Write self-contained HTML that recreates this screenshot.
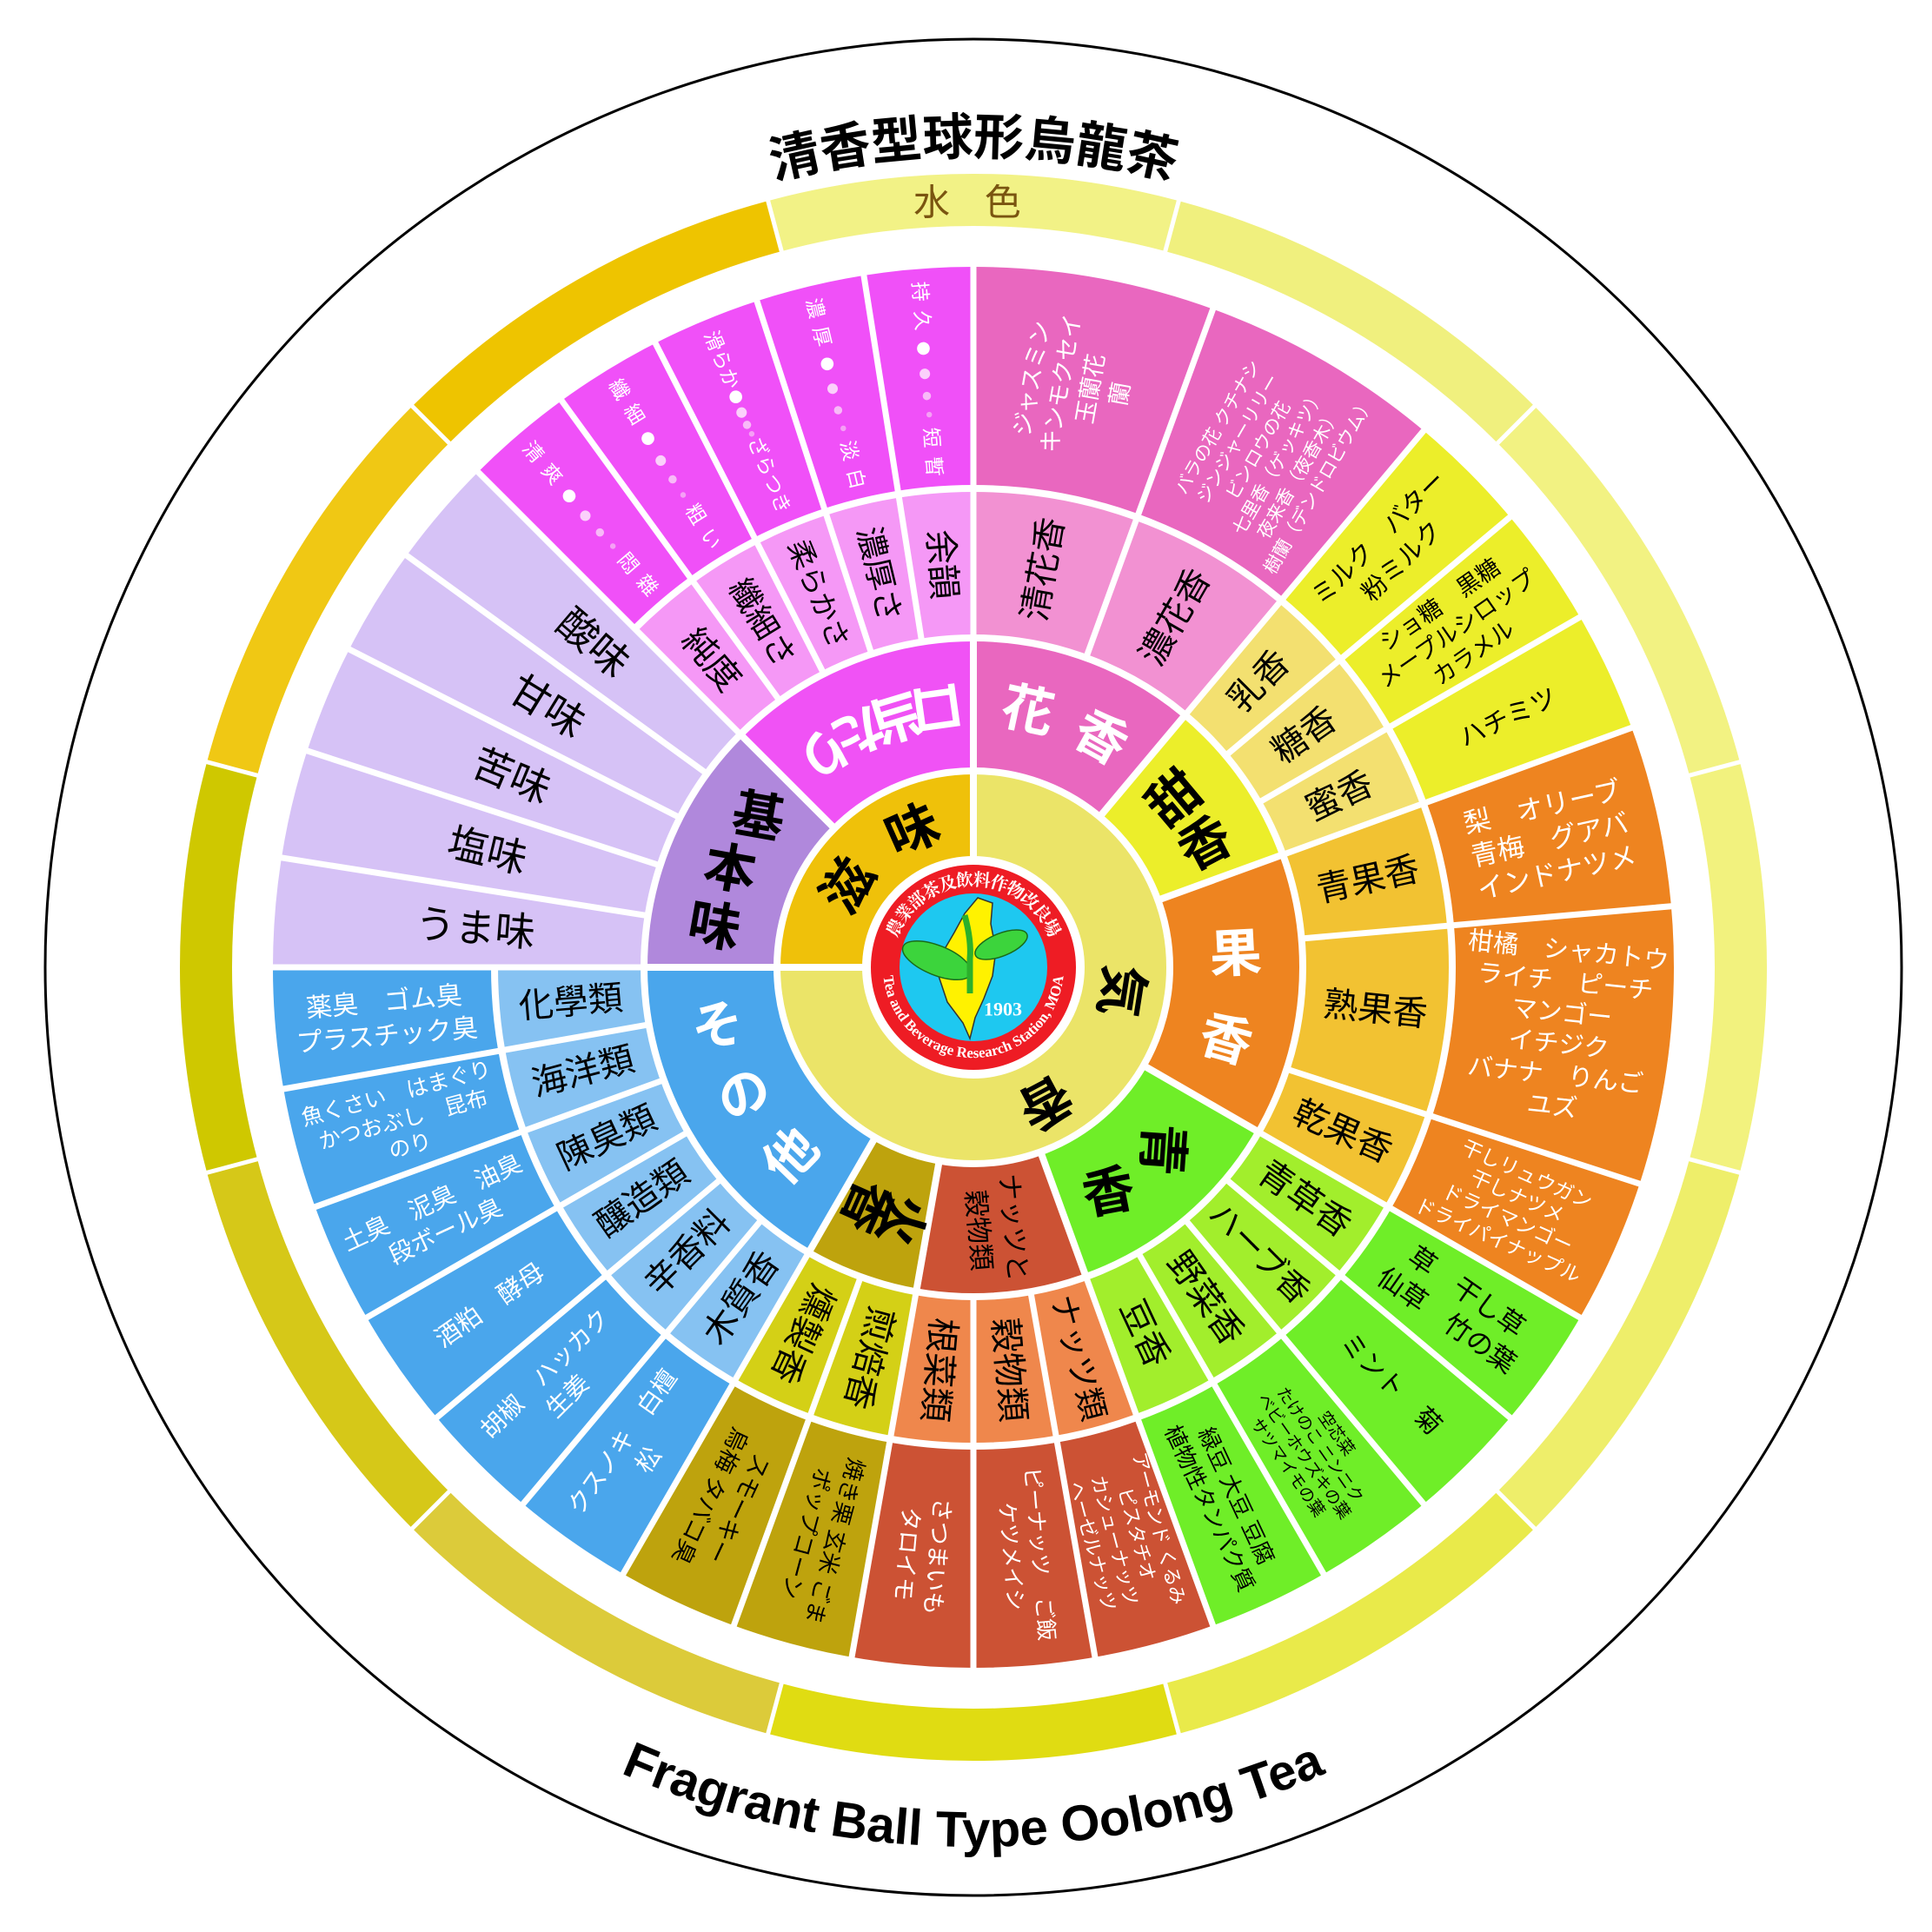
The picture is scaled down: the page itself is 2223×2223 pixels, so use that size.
<!DOCTYPE html>
<html><head><meta charset="utf-8">
<style>
html,body{margin:0;padding:0;background:#fff;width:2223px;height:2223px;overflow:hidden;}
svg{display:block}
text{font-family:"Liberation Sans","Noto Sans CJK JP",sans-serif;text-anchor:middle;dominant-baseline:central}
.r3{font-size:40px;fill:#000}
.b{font-weight:bold}
.w{fill:#fff}
.k{fill:#000}
</style></head>
<body>
<svg width="2223" height="2223" viewBox="0 0 2223 2223" xmlns="http://www.w3.org/2000/svg" style="position:absolute;left:0;top:0">
<rect width="2223" height="2223" fill="#fff"/>
<g transform="translate(1120,1113)">
<circle r="1068" fill="none" stroke="#000" stroke-width="3"/>

<!-- outer band -->
<g fill="none" stroke-width="60">
<circle r="883" pathLength="360" stroke="#f2f286" stroke-dasharray="30 360" transform="rotate(255)"/>
<circle r="883" pathLength="360" stroke="#f0f07e" stroke-dasharray="30 360" transform="rotate(-75)"/>
<circle r="883" pathLength="360" stroke="#f2f282" stroke-dasharray="30 360" transform="rotate(-45)"/>
<circle r="883" pathLength="360" stroke="#f2f27e" stroke-dasharray="30 360" transform="rotate(-15)"/>
<circle r="883" pathLength="360" stroke="#eeee6a" stroke-dasharray="30 360" transform="rotate(15)"/>
<circle r="883" pathLength="360" stroke="#e9ea4a" stroke-dasharray="30 360" transform="rotate(45)"/>
<circle r="883" pathLength="360" stroke="#e0dc12" stroke-dasharray="30 360" transform="rotate(75)"/>
<circle r="883" pathLength="360" stroke="#dccb3a" stroke-dasharray="30 360" transform="rotate(105)"/>
<circle r="883" pathLength="360" stroke="#d6c818" stroke-dasharray="30 360" transform="rotate(135)"/>
<circle r="883" pathLength="360" stroke="#cfc800" stroke-dasharray="30 360" transform="rotate(165)"/>
<circle r="883" pathLength="360" stroke="#f0c814" stroke-dasharray="30 360" transform="rotate(195)"/>
<circle r="883" pathLength="360" stroke="#eec400" stroke-dasharray="30 360" transform="rotate(225)"/>
</g>
<g stroke="#fff" stroke-width="5">
<line x1="0" y1="-848" x2="0" y2="-918" transform="rotate(15)"/>
<line x1="0" y1="-848" x2="0" y2="-918" transform="rotate(45)"/>
<line x1="0" y1="-848" x2="0" y2="-918" transform="rotate(75)"/>
<line x1="0" y1="-848" x2="0" y2="-918" transform="rotate(105)"/>
<line x1="0" y1="-848" x2="0" y2="-918" transform="rotate(135)"/>
<line x1="0" y1="-848" x2="0" y2="-918" transform="rotate(165)"/>
<line x1="0" y1="-848" x2="0" y2="-918" transform="rotate(195)"/>
<line x1="0" y1="-848" x2="0" y2="-918" transform="rotate(225)"/>
<line x1="0" y1="-848" x2="0" y2="-918" transform="rotate(255)"/>
<line x1="0" y1="-848" x2="0" y2="-918" transform="rotate(285)"/>
<line x1="0" y1="-848" x2="0" y2="-918" transform="rotate(315)"/>
<line x1="0" y1="-848" x2="0" y2="-918" transform="rotate(345)"/>
</g>
<text x="0" y="-880" style="font-size:42px;fill:#7a5510;letter-spacing:14px">水 色</text>

<!-- titles -->
<path id="tp" d="M -935 0 A 935 935 0 0 1 935 0" fill="none"/>
<text style="font-size:58px;font-weight:bold;dominant-baseline:auto"><textPath href="#tp" startOffset="50%">清香型球形烏龍茶</textPath></text>
<path id="bp" d="M -1012 0 A 1012 1012 0 0 0 1012 0" fill="none"/>
<text style="font-size:58px;font-weight:bold;dominant-baseline:auto;font-family:'Liberation Sans',sans-serif"><textPath href="#bp" startOffset="50%">Fragrant Ball Type Oolong Tea</textPath></text>

<!-- ring4 -->
<g fill="none" stroke-width="256">
<circle r="679" pathLength="360" stroke="#e967bf" stroke-dasharray="40 360" transform="rotate(-90)"/>
<circle r="679" pathLength="360" stroke="#ecee2a" stroke-dasharray="30 360" transform="rotate(-50)"/>
<circle r="679" pathLength="360" stroke="#ee8420" stroke-dasharray="50 360" transform="rotate(-20)"/>
<circle r="679" pathLength="360" stroke="#6fee28" stroke-dasharray="40 360" transform="rotate(30)"/>
<circle r="679" pathLength="360" stroke="#cc5234" stroke-dasharray="30 360" transform="rotate(70)"/>
<circle r="679" pathLength="360" stroke="#bea30d" stroke-dasharray="20 360" transform="rotate(100)"/>
<circle r="679" pathLength="360" stroke="#4aa6ec" stroke-dasharray="60 360" transform="rotate(120)"/>
<circle r="679" pathLength="360" stroke="#f050f8" stroke-dasharray="45 360" transform="rotate(225)"/>
</g>
<!-- ring3 -->
<g fill="none" stroke-width="174">
<circle r="465" pathLength="360" stroke="#f291d2" stroke-dasharray="40 360" transform="rotate(-90)"/>
<circle r="465" pathLength="360" stroke="#f3e070" stroke-dasharray="30 360" transform="rotate(-50)"/>
<circle r="465" pathLength="360" stroke="#f2c232" stroke-dasharray="50 360" transform="rotate(-20)"/>
<circle r="465" pathLength="360" stroke="#a2ee2c" stroke-dasharray="40 360" transform="rotate(30)"/>
<circle r="465" pathLength="360" stroke="#ef874c" stroke-dasharray="30 360" transform="rotate(70)"/>
<circle r="465" pathLength="360" stroke="#d4d016" stroke-dasharray="20 360" transform="rotate(100)"/>
<circle r="465" pathLength="360" stroke="#86c2f2" stroke-dasharray="60 360" transform="rotate(120)"/>
<circle r="465" pathLength="360" stroke="#f598f6" stroke-dasharray="45 360" transform="rotate(225)"/>
</g>
<circle r="593" fill="none" stroke-width="430" pathLength="360" stroke="#d6c2f6" stroke-dasharray="45 360" transform="rotate(180)"/>
<!-- ring2 -->
<g fill="none" stroke-width="154">
<circle r="302" pathLength="360" stroke="#e967bf" stroke-dasharray="40 360" transform="rotate(-90)"/>
<circle r="302" pathLength="360" stroke="#ecee2a" stroke-dasharray="30 360" transform="rotate(-50)"/>
<circle r="302" pathLength="360" stroke="#ee8420" stroke-dasharray="50 360" transform="rotate(-20)"/>
<circle r="302" pathLength="360" stroke="#6fee28" stroke-dasharray="40 360" transform="rotate(30)"/>
<circle r="302" pathLength="360" stroke="#cc5234" stroke-dasharray="30 360" transform="rotate(70)"/>
<circle r="302" pathLength="360" stroke="#bea30d" stroke-dasharray="20 360" transform="rotate(100)"/>
<circle r="302" pathLength="360" stroke="#4aa6ec" stroke-dasharray="60 360" transform="rotate(120)"/>
<circle r="302" pathLength="360" stroke="#b088dc" stroke-dasharray="45 360" transform="rotate(180)"/>
<circle r="302" pathLength="360" stroke="#f052f5" stroke-dasharray="45 360" transform="rotate(225)"/>
</g>
<!-- ring1 -->
<g fill="none" stroke-width="100">
<circle r="176" pathLength="360" stroke="#efc10a" stroke-dasharray="90 360" transform="rotate(180)"/>
<circle r="176" pathLength="360" stroke="#ebe468" stroke-dasharray="270 360" transform="rotate(-90)"/>
</g>
<!-- white ring separators -->
<g fill="none" stroke="#fff">
<circle r="226" stroke-width="8"/>
<circle r="379" stroke-width="8"/>
<circle r="551" stroke-width="8" pathLength="360" stroke-dasharray="315 45" transform="rotate(225)"/>
<circle r="810" stroke-width="8"/>
</g>
<g stroke="#fff" stroke-width="8">
<line x1="0" y1="-120" x2="0" y2="-228" transform="rotate(0)"/>
<line x1="0" y1="-120" x2="0" y2="-228" transform="rotate(270)"/>
<line x1="0" y1="-224" x2="0" y2="-380" transform="rotate(0)"/>
<line x1="0" y1="-224" x2="0" y2="-380" transform="rotate(40)"/>
<line x1="0" y1="-224" x2="0" y2="-380" transform="rotate(70)"/>
<line x1="0" y1="-224" x2="0" y2="-380" transform="rotate(120)"/>
<line x1="0" y1="-224" x2="0" y2="-380" transform="rotate(160)"/>
<line x1="0" y1="-224" x2="0" y2="-380" transform="rotate(190)"/>
<line x1="0" y1="-224" x2="0" y2="-380" transform="rotate(210)"/>
<line x1="0" y1="-224" x2="0" y2="-380" transform="rotate(270)"/>
<line x1="0" y1="-224" x2="0" y2="-380" transform="rotate(315)"/>
</g>
<g stroke="#fff" stroke-width="7">
<line x1="0" y1="-376" x2="0" y2="-812" transform="rotate(0)"/>
<line x1="0" y1="-376" x2="0" y2="-812" transform="rotate(20)"/>
<line x1="0" y1="-376" x2="0" y2="-812" transform="rotate(40)"/>
<line x1="0" y1="-376" x2="0" y2="-812" transform="rotate(50)"/>
<line x1="0" y1="-376" x2="0" y2="-812" transform="rotate(60)"/>
<line x1="0" y1="-376" x2="0" y2="-812" transform="rotate(70)"/>
<line x1="0" y1="-376" x2="0" y2="-812" transform="rotate(85)"/>
<line x1="0" y1="-376" x2="0" y2="-812" transform="rotate(108)"/>
<line x1="0" y1="-376" x2="0" y2="-812" transform="rotate(120)"/>
<line x1="0" y1="-376" x2="0" y2="-812" transform="rotate(130)"/>
<line x1="0" y1="-376" x2="0" y2="-812" transform="rotate(140)"/>
<line x1="0" y1="-376" x2="0" y2="-812" transform="rotate(150)"/>
<line x1="0" y1="-376" x2="0" y2="-812" transform="rotate(160)"/>
<line x1="0" y1="-376" x2="0" y2="-812" transform="rotate(170)"/>
<line x1="0" y1="-376" x2="0" y2="-812" transform="rotate(180)"/>
<line x1="0" y1="-376" x2="0" y2="-812" transform="rotate(190)"/>
<line x1="0" y1="-376" x2="0" y2="-812" transform="rotate(200)"/>
<line x1="0" y1="-376" x2="0" y2="-812" transform="rotate(210)"/>
<line x1="0" y1="-376" x2="0" y2="-812" transform="rotate(220)"/>
<line x1="0" y1="-376" x2="0" y2="-812" transform="rotate(230)"/>
<line x1="0" y1="-376" x2="0" y2="-812" transform="rotate(240)"/>
<line x1="0" y1="-376" x2="0" y2="-812" transform="rotate(250)"/>
<line x1="0" y1="-376" x2="0" y2="-812" transform="rotate(260)"/>
<line x1="0" y1="-376" x2="0" y2="-812" transform="rotate(270)"/>
<line x1="0" y1="-376" x2="0" y2="-812" transform="rotate(279)"/>
<line x1="0" y1="-376" x2="0" y2="-812" transform="rotate(288)"/>
<line x1="0" y1="-376" x2="0" y2="-812" transform="rotate(297)"/>
<line x1="0" y1="-376" x2="0" y2="-812" transform="rotate(306)"/>
<line x1="0" y1="-376" x2="0" y2="-812" transform="rotate(315)"/>
<line x1="0" y1="-376" x2="0" y2="-812" transform="rotate(324)"/>
<line x1="0" y1="-376" x2="0" y2="-812" transform="rotate(333)"/>
<line x1="0" y1="-376" x2="0" y2="-812" transform="rotate(342)"/>
<line x1="0" y1="-376" x2="0" y2="-812" transform="rotate(351)"/>
</g>

<!-- ring1 labels -->
<g style="font-size:60px;font-weight:bold">
<text transform="rotate(303) translate(0,-172)">滋</text>
<text transform="rotate(336) translate(0,-172)">味</text>
<text transform="rotate(99) translate(0,-172)">気</text>
<text transform="rotate(152) translate(0,-176)">香</text>
</g>

<!-- ring2 labels -->
<g style="font-size:60px;font-weight:bold">
<text class="w" transform="rotate(12) translate(0,-302)">花</text>
<text class="w" transform="rotate(29) translate(0,-302)">香</text>
<text class="k" transform="rotate(50) translate(0,-302) rotate(-90)">甜</text>
<text class="k" transform="rotate(62) translate(0,-302) rotate(-90)">香</text>
<text class="w" transform="rotate(87) translate(0,-302) rotate(-90)">果</text>
<text class="w" transform="rotate(106) translate(0,-302) rotate(-90)">香</text>
<text class="k" transform="rotate(134) translate(0,-302) rotate(-40)">青</text>
<text class="k" transform="rotate(149) translate(0,-302) rotate(-160)">香</text>
<text class="k" transform="rotate(196) translate(0,-302) rotate(-90)">火</text>
<text class="k" transform="rotate(204) translate(0,-302) rotate(-90)">香</text>
<text class="w" transform="rotate(257) translate(0,-302) rotate(90)">そ</text>
<text class="w" transform="rotate(241) translate(0,-302) rotate(90)">の</text>
<text class="w" transform="rotate(224) translate(0,-302) rotate(90)">他</text>
<text class="k" transform="rotate(305) translate(0,-302) rotate(-295)">基</text>
<text class="k" transform="rotate(292) translate(0,-302) rotate(-282)">本</text>
<text class="k" transform="rotate(279) translate(0,-302) rotate(-269)">味</text>
<text class="w" transform="rotate(352) translate(0,-302) rotate(180)">口</text>
<text class="w" transform="rotate(343) translate(0,-302) rotate(180)">当</text>
<text class="w" transform="rotate(334) translate(0,-302) rotate(180)">た</text>
<text class="w" transform="rotate(325) translate(0,-302) rotate(180)">り</text>
</g>
<text class="k" style="font-size:31px" transform="rotate(175) translate(0,-302) rotate(-90)"><tspan x="0" dy="-0.65em">ナッツと</tspan><tspan x="0" dy="1.3em">穀物類</tspan></text>

<!-- ring3 labels -->
<g class="r3">
<text transform="rotate(10) translate(0,-465) rotate(-90)">清花香</text>
<text transform="rotate(30) translate(0,-465) rotate(-90)">濃花香</text>
<text transform="rotate(45) translate(0,-465) rotate(-90)">乳香</text>
<text transform="rotate(55) translate(0,-465) rotate(-90)">糖香</text>
<text transform="rotate(65) translate(0,-465) rotate(-90)">蜜香</text>
<text transform="rotate(77.5) translate(0,-465) rotate(-90)">青果香</text>
<text transform="rotate(96) translate(0,-465) rotate(-90)">熟果香</text>
<text transform="rotate(114) translate(0,-465) rotate(-90)">乾果香</text>
<text transform="rotate(125) translate(0,-465) rotate(-90)">青草香</text>
<text transform="rotate(135) translate(0,-465) rotate(-90)" style="font-size:37px">ハーブ香</text>
<text transform="rotate(145) translate(0,-465) rotate(-90)">野菜香</text>
<text transform="rotate(155) translate(0,-465) rotate(-90)">豆香</text>
<text transform="rotate(165) translate(0,-465) rotate(-90)" style="font-size:37px">ナッツ類</text>
<text transform="rotate(175) translate(0,-465) rotate(-90)">穀物類</text>
<text transform="rotate(185) translate(0,-465) rotate(-90)">根菜類</text>
<text transform="rotate(195) translate(0,-465) rotate(-90)">煎焙香</text>
<text transform="rotate(205) translate(0,-465) rotate(-90)">燻製香</text>
<text transform="rotate(215) translate(0,-465) rotate(90)">木質香</text>
<text transform="rotate(225) translate(0,-465) rotate(90)">辛香料</text>
<text transform="rotate(235) translate(0,-465) rotate(90)">釀造類</text>
<text transform="rotate(245) translate(0,-465) rotate(90)">陳臭類</text>
<text transform="rotate(255) translate(0,-465) rotate(90)">海洋類</text>
<text transform="rotate(265) translate(0,-465) rotate(90)">化學類</text>
<text transform="rotate(319.5) translate(0,-465) rotate(90)">純度</text>
<text transform="rotate(328.5) translate(0,-465) rotate(90)" style="font-size:37px">纖細さ</text>
<text transform="rotate(337.5) translate(0,-465) rotate(90)" style="font-size:33px">柔らかさ</text>
<text transform="rotate(346.5) translate(0,-465) rotate(90)" style="font-size:37px">濃厚さ</text>
<text transform="rotate(355.5) translate(0,-465) rotate(90)">余韻</text>
</g>
<g style="font-size:46px">
<text transform="rotate(274.5) translate(0,-575) rotate(90)">うま味</text>
<text transform="rotate(283.5) translate(0,-575) rotate(90)">塩味</text>
<text transform="rotate(292.5) translate(0,-575) rotate(90)">苦味</text>
<text transform="rotate(301.5) translate(0,-575) rotate(90)">甘味</text>
<text transform="rotate(310.5) translate(0,-575) rotate(90)">酸味</text>
</g>

<!-- ring4 labels -->
<text class="w" style="font-size:27px" transform="rotate(10) translate(0,-679) rotate(-90)"><tspan x="0" dy="-1.9em">ジャスミン</tspan><tspan x="0" dy="1.27em">キンモクセイ</tspan><tspan x="0" dy="1.27em">玉蘭花</tspan><tspan x="0" dy="1.27em">蘭</tspan></text>
<text class="w" style="font-size:21px" transform="rotate(30) translate(0,-679) rotate(-90)"><tspan x="0" dy="-3.2em">バラの花 クチナシ</tspan><tspan x="0" dy="1.28em">ジンジャーリリー</tspan><tspan x="0" dy="1.28em">ビンロウの花</tspan><tspan x="0" dy="1.28em">七里香（ゲッキツ）</tspan><tspan x="0" dy="1.28em">夜来香（夜香木）</tspan><tspan x="0" dy="1.28em">樹蘭（デンドロビウム）</tspan></text>
<text class="k" style="font-size:29px" transform="rotate(45) translate(0,-679) rotate(-90)"><tspan x="0" dy="-0.65em">ミルク　バター</tspan><tspan x="0" dy="1.3em">粉ミルク</tspan></text>
<text class="k" style="font-size:27px" transform="rotate(55) translate(0,-679) rotate(-90)"><tspan x="0" dy="-1.25em">ショ糖　黒糖</tspan><tspan x="0" dy="1.25em">メープルシロップ</tspan><tspan x="0" dy="1.25em">カラメル</tspan></text>
<text class="k" style="font-size:30px" transform="rotate(65) translate(0,-679) rotate(-90)">ハチミツ</text>
<text class="w" style="font-size:31px" transform="rotate(77.5) translate(0,-679) rotate(-90)"><tspan x="0" dy="-1.25em">梨　オリーブ</tspan><tspan x="0" dy="1.25em">青梅　グアバ</tspan><tspan x="0" dy="1.25em">インドナツメ</tspan></text>
<text class="w" style="font-size:29px" transform="rotate(96) translate(0,-679) rotate(-90)"><tspan x="0" dy="-3.1em">柑橘　シャカトウ</tspan><tspan x="0" dy="1.24em">ライチ　ピーチ</tspan><tspan x="0" dy="1.24em">マンゴー</tspan><tspan x="0" dy="1.24em">イチジク</tspan><tspan x="0" dy="1.24em">バナナ　りんご</tspan><tspan x="0" dy="1.24em">ユズ</tspan></text>
<text class="w" style="font-size:23px" transform="rotate(114) translate(0,-679) rotate(-90)"><tspan x="0" dy="-1.8em">干しリュウガン</tspan><tspan x="0" dy="1.2em">干しナツメ</tspan><tspan x="0" dy="1.2em">ドライマンゴー</tspan><tspan x="0" dy="1.2em">ドライパイナップル</tspan></text>
<text class="k" style="font-size:31px" transform="rotate(125) translate(0,-679) rotate(-90)"><tspan x="0" dy="-0.65em">草　干し草</tspan><tspan x="0" dy="1.3em">仙草　竹の葉</tspan></text>
<text class="k" style="font-size:30px" transform="rotate(135) translate(0,-679) rotate(-90)">ミント　菊</text>
<text class="k" style="font-size:19px" transform="rotate(145) translate(0,-679) rotate(-90)"><tspan x="0" dy="-1.8em">空芯菜</tspan><tspan x="0" dy="1.2em">たけのこ ニンニク</tspan><tspan x="0" dy="1.2em">ベビーホウズキの葉</tspan><tspan x="0" dy="1.2em">サツマイモの葉</tspan></text>
<text class="k" style="font-size:26px" transform="rotate(155) translate(0,-679) rotate(-90)"><tspan x="0" dy="-0.65em">緑豆 大豆 豆腐</tspan><tspan x="0" dy="1.3em">植物性タンパク質</tspan></text>
<text class="w" style="font-size:22px" transform="rotate(165) translate(0,-679) rotate(-90)"><tspan x="0" dy="-1.8em">アーモンド くるみ</tspan><tspan x="0" dy="1.2em">ピスタチオ</tspan><tspan x="0" dy="1.2em">カシューナッツ</tspan><tspan x="0" dy="1.2em">ヘーゼルナッツ</tspan></text>
<text class="w" style="font-size:25px" transform="rotate(175) translate(0,-679) rotate(-90)"><tspan x="0" dy="-0.65em">ピーナッツ　ご飯</tspan><tspan x="0" dy="1.3em">ケツメイシ</tspan></text>
<text class="w" style="font-size:27px" transform="rotate(185) translate(0,-679) rotate(-90)"><tspan x="0" dy="-0.65em">さつまいも</tspan><tspan x="0" dy="1.3em">タロイモ</tspan></text>
<text class="k" style="font-size:26px" transform="rotate(195) translate(0,-679) rotate(-90)"><tspan x="0" dy="-0.65em">焼き栗 玄米 ごま</tspan><tspan x="0" dy="1.3em">ポップコーン</tspan></text>
<text class="k" style="font-size:27px" transform="rotate(205) translate(0,-679) rotate(-90)"><tspan x="0" dy="-0.65em">スモーキー</tspan><tspan x="0" dy="1.3em">烏梅 タバコ臭</tspan></text>
<text class="w" style="font-size:28px" transform="rotate(215) translate(0,-679) rotate(90)"><tspan x="0" dy="-0.65em">クスノキ　白檀</tspan><tspan x="0" dy="1.3em">松</tspan></text>
<text class="w" style="font-size:28px" transform="rotate(225) translate(0,-679) rotate(90)"><tspan x="0" dy="-0.65em">胡椒　ハッカク</tspan><tspan x="0" dy="1.3em">生姜</tspan></text>
<text class="w" style="font-size:29px" transform="rotate(235) translate(0,-679) rotate(90)">酒粕　酵母</text>
<text class="w" style="font-size:28px" transform="rotate(245) translate(0,-679) rotate(90)"><tspan x="0" dy="-0.65em">土臭　泥臭　油臭</tspan><tspan x="0" dy="1.3em">段ボール臭</tspan></text>
<text class="w" style="font-size:25px" transform="rotate(255) translate(0,-679) rotate(90)"><tspan x="0" dy="-1.25em">魚くさい　はまぐり</tspan><tspan x="0" dy="1.25em">かつおぶし　昆布</tspan><tspan x="0" dy="1.25em">のり</tspan></text>
<text class="w" style="font-size:30px" transform="rotate(265) translate(0,-679) rotate(90)"><tspan x="0" dy="-0.65em">薬臭　ゴム臭</tspan><tspan x="0" dy="1.3em">プラスチック臭</tspan></text>

<g style="font-size:23px;fill:#fff">
<text transform="rotate(319.5) translate(0,-679) rotate(90)" textLength="225" lengthAdjust="spacing">清爽<tspan font-size="34">●</tspan><tspan font-size="28" fill="#fbd0fb">●</tspan><tspan font-size="22" fill="#f8baf8">●</tspan><tspan font-size="15" fill="#f5a0f5">●</tspan>悶雜</text>
<text transform="rotate(328.5) translate(0,-679) rotate(90)" textLength="225" lengthAdjust="spacing">纖細<tspan font-size="34">●</tspan><tspan font-size="28" fill="#fbd0fb">●</tspan><tspan font-size="22" fill="#f8baf8">●</tspan><tspan font-size="15" fill="#f5a0f5">●</tspan>粗い</text>
<text transform="rotate(337.5) translate(0,-679) rotate(90)" textLength="225" lengthAdjust="spacing">滑らか<tspan font-size="34">●</tspan><tspan font-size="28" fill="#fbd0fb">●</tspan><tspan font-size="22" fill="#f8baf8">●</tspan><tspan font-size="15" fill="#f5a0f5">●</tspan>ざらつき</text>
<text transform="rotate(346.5) translate(0,-679) rotate(90)" textLength="225" lengthAdjust="spacing">濃厚<tspan font-size="34">●</tspan><tspan font-size="28" fill="#fbd0fb">●</tspan><tspan font-size="22" fill="#f8baf8">●</tspan><tspan font-size="15" fill="#f5a0f5">●</tspan>淡白</text>
<text transform="rotate(355.5) translate(0,-679) rotate(90)" textLength="225" lengthAdjust="spacing">持久<tspan font-size="34">●</tspan><tspan font-size="28" fill="#fbd0fb">●</tspan><tspan font-size="22" fill="#f8baf8">●</tspan><tspan font-size="15" fill="#f5a0f5">●</tspan>短暫</text>
</g>

<!-- logo -->
<circle r="128" fill="#fff"/>
<circle r="118" fill="#ee1c24"/>
<circle r="85" fill="#1ec8f0"/>
<path d="M5,-80 L22,-74 L20,-50 L26,-20 L22,10 L12,36 L2,58 L-4,82 L-12,64 L-30,40 L-40,10 L-36,-16 L-22,-40 L-10,-62 Z" fill="#fff200" stroke="#333" stroke-width="1.5"/>
<ellipse cx="-42" cy="-8" rx="42" ry="17" transform="rotate(22 -42 -8)" fill="#3cd43c" stroke="#1a6a1a" stroke-width="1.5"/>
<ellipse cx="32" cy="-26" rx="32" ry="13" transform="rotate(-22 32 -26)" fill="#3cd43c" stroke="#1a6a1a" stroke-width="1.5"/>
<path d="M-10,-60 Q-2,-30 -4,-10 L-4,30" stroke="#2bb02b" stroke-width="7" fill="none"/>
<text x="34" y="48" style="font-family:'Liberation Serif',serif;font-weight:bold;font-size:22px;fill:#fff">1903</text>
<path id="lt" d="M -100 0 A 100 100 0 0 1 100 0" fill="none"/>
<text style="font-size:20px;font-weight:bold;fill:#fff;dominant-baseline:central;font-family:'Liberation Serif','Noto Serif CJK SC',serif"><textPath href="#lt" startOffset="50%">農業部茶及飲料作物改良場</textPath></text>
<path id="lb" d="M -90 -52 A 104 104 0 1 0 90 -52" fill="none"/>
<text style="font-size:17px;font-weight:bold;fill:#fff;dominant-baseline:auto;font-family:'Liberation Serif',serif"><textPath href="#lb" startOffset="50%">Tea and Beverage Research Station, MOA</textPath></text>
</g>
</svg>
</body></html>
